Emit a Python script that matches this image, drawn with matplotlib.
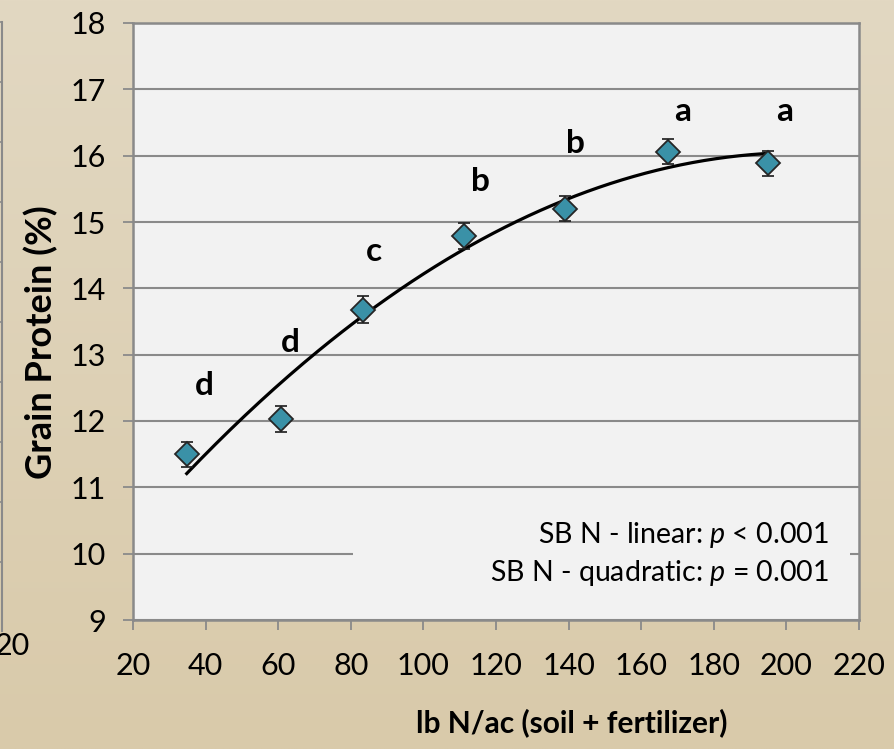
import numpy as np
import matplotlib
matplotlib.use("Agg")
import matplotlib.pyplot as plt
from matplotlib.lines import Line2D
from matplotlib.patches import Rectangle

plt.rcParams['font.family'] = ['Lato', 'DejaVu Sans']
plt.rcParams['mathtext.fontset'] = 'custom'
plt.rcParams['mathtext.rm'] = 'Lato'
plt.rcParams['mathtext.it'] = 'Lato:italic'

# ---- data ----
n_rate = [34.8, 60.7, 83.4, 111.3, 139.0, 167.3, 195.0]
protein = [11.50, 12.03, 13.68, 14.79, 15.20, 16.06, 15.885]
protein_err = [0.19, 0.19, 0.20, 0.19, 0.19, 0.19, 0.19]
letters = ['d', 'd', 'c', 'b', 'b', 'a', 'a']
letter_x = [39.6, 63.3, 86.4, 115.6, 142.0, 171.5, 199.6]
letter_y = [12.54, 13.19, 14.55, 15.61, 16.19, 16.66, 16.66]
x_ticks = list(range(20, 221, 20))
y_ticks = list(range(9, 19))
stats_lines = ["SB N - linear: $\\mathit{p}$ < 0.001",
               "SB N - quadratic: $\\mathit{p}$ = 0.001"]

W, H = 895, 749
fig = plt.figure(figsize=(W / 100, H / 100), dpi=100)

# background gradient
bg = fig.add_axes([0, 0, 1, 1], zorder=-10)
top_c = np.array([226, 216, 194]) / 255
bot_c = np.array([217, 202, 170]) / 255
t = np.linspace(0, 1, 256)[:, None]
grad = top_c * (1 - t[..., None]) + bot_c * t[..., None]
grad = np.repeat(grad, 4, axis=1)
bg.imshow(grad, aspect='auto', extent=[0, 1, 0, 1], origin='upper')
bg.set_xlim(0, 1); bg.set_ylim(0, 1)
bg.axis('off')

# partial neighbouring chart on the left edge
gc = '#8a8a8a'
bg.add_line(Line2D([2.5 / W, 2.5 / W], [1 - 22 / H, 1 - 631 / H], color=gc, lw=1.5))
for py in [22, 82, 142, 202, 262, 322, 382, 442, 502, 562]:
    bg.add_line(Line2D([0, 2.5 / W], [1 - py / H, 1 - py / H], color=gc, lw=1.2))
bg.text(30 / W, 1 - 646 / H, "20", ha='right', va='center', fontsize=22)

L, R, T, B = 133, 859, 23, 620
ax = fig.add_axes([L / W, 1 - B / H, (R - L) / W, (B - T) / H])
ax.set_facecolor('#f2f2f2')
ax.set_xlim(20, 220)
ax.set_ylim(9, 18)
ax.set_xticks(x_ticks)
ax.set_yticks(y_ticks)
ax.grid(axis='y', color=gc, lw=1.5, zorder=0)
ax.set_axisbelow(True)
for s in ax.spines.values():
    s.set_color(gc)
    s.set_linewidth(1.8)
ax.tick_params(axis='both', colors=gc, labelcolor='black', labelsize=22,
               length=7.5, width=1.3, direction='out')
ax.tick_params(axis='y', pad=12)
ax.tick_params(axis='x', pad=15.5)

# stats box covering the gridline
ax.add_patch(Rectangle((80.5, 9.45), 217.5 - 80.5, 10.7 - 9.45,
                       facecolor='#f2f2f2', edgecolor='none', zorder=1.5))

# quadratic trendline
coef = np.polyfit(n_rate, protein, 2)
xs = np.linspace(min(n_rate), max(n_rate), 200)
ax.plot(xs, np.polyval(coef, xs), color='black', lw=2.3, zorder=3)

ax.errorbar(n_rate, protein, yerr=protein_err, fmt='none', ecolor='#1a1a1a',
            elinewidth=1.2, capsize=4.5, capthick=1.2, zorder=4)
ax.plot(n_rate, protein, 'D', markersize=12.5, markerfacecolor='#3a91a7',
        markeredgecolor='#262626', markeredgewidth=1.3, zorder=5, ls='none')

for lx, ly, lt in zip(letter_x, letter_y, letters):
    ax.text(lx, ly, lt, ha='center', va='center', fontsize=24, fontweight='bold', zorder=6)

ax.text(211.7, 10.28, stats_lines[0], ha='right', va='center', fontsize=20.5, zorder=6)
ax.text(211.7, 9.71, stats_lines[1], ha='right', va='center', fontsize=20.5, zorder=6)

ax.set_xlabel("lb N/ac (soil + fertilizer)", fontsize=21.5, fontweight='bold')
ax.xaxis.set_label_coords((572 - L) / (R - L), -(708 - B) / (B - T))
ax.set_ylabel("Grain Protein (%)", fontsize=26, fontweight='bold')
ax.yaxis.set_label_coords((58 - L) / (R - L), (B - 342) / (B - T))

fig.savefig("out.png", dpi=100)
